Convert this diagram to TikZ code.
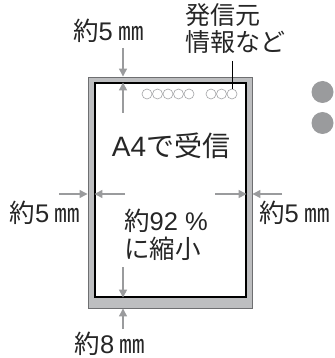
\documentclass[tikz,border=0pt]{standalone}
\usepackage{fontspec}
\setmainfont{Noto Sans CJK JP}
\newfontfamily\lat{Liberation Sans}
\usetikzlibrary{arrows.meta,positioning,calc}
\definecolor{rimgray}{HTML}{BDBEC0}
\definecolor{edgegray}{HTML}{6E6F71}
\definecolor{arrowgray}{HTML}{9A9B9D}
\definecolor{dotgray}{HTML}{A3A4A6}
\tikzset{
  sheet/.style={draw=edgegray,fill=rimgray,line width=0.9pt,minimum width=164pt,minimum height=231pt,inner sep=0pt},
  page/.style={draw=black,fill=white,line width=1.1pt,minimum width=151pt,minimum height=214pt,inner sep=0pt},
  dimarrow/.style={draw=arrowgray,line width=1.3pt,-{Triangle[length=8pt,width=8pt]}},
  label/.style={font=\fontsize{25.5}{27}\selectfont,inner sep=0pt,text=black!85},
  holedot/.style={draw=dotgray,line width=0.6pt}
}
\begin{document}
\begin{tikzpicture}[x=1pt,y=-1pt]
  \useasboundingbox (0,0) rectangle (334,358);
  % paper and printed area
  \node[sheet] (outer) at (170,192.5) {};
  \node[page] (inner) at (170.5,190) {};

  % sender info dots
  \foreach \cx in {147,157.5,168,178.5,189,211,221.5,232}
    \draw[holedot] (\cx,94) circle (5);
  \node[label,align=left,anchor=north west,font=\fontsize{25}{27}\selectfont] (sender) at (185,3) {発信元\\情報など};
  \coordinate (dotlast) at (232,89);
  \draw[black,line width=0.9pt] (dotlast |- 0,61) -- (dotlast);

  % main texts
  \node[label,font=\fontsize{28}{30}\selectfont] (recv) at (171,146) {{\lat A4}で受信};
  \node[label,align=left,anchor=north west,font=\fontsize{25.5}{28}\selectfont] (scale) at (124,209) {約{\lat 92 \%}\\に縮小};

  % top margin
  \node[label] (toplab) at (108.5,31) {約{\lat 5} ㎜};
  \coordinate (topA) at (123,48);
  \draw[dimarrow] (topA) -- (topA |- outer.north);
  \coordinate (topB) at (123,113);
  \draw[dimarrow] (topB) -- (topB |- inner.north);

  % left margin
  \node[label] (leftlab) at (45,213) {約{\lat 5} ㎜};
  \coordinate (leftA) at (59,194);
  \draw[dimarrow] (leftA) -- (leftA -| outer.west);
  \coordinate (leftB) at (125,194);
  \draw[dimarrow] (leftB) -- (leftB -| inner.west);

  % right margin
  \node[label] (rightlab) at (294.5,213) {約{\lat 5} ㎜};
  \coordinate (rightA) at (215,194);
  \draw[dimarrow] (rightA) -- (rightA -| inner.east);
  \coordinate (rightB) at (282,194);
  \draw[dimarrow] (rightB) -- (rightB -| outer.east);

  % bottom margin
  \node[label] (botlab) at (110,344) {約{\lat 8} ㎜};
  \coordinate (botA) at (123,267);
  \draw[dimarrow] (botA) -- (botA |- inner.south);
  \coordinate (botB) at (123,329);
  \draw[dimarrow] (botB) -- (botB |- outer.south);

  % side bullets
  \fill[arrowgray] (322.5,92) circle (11);
  \fill[arrowgray] (322.5,123) circle (11);
\end{tikzpicture}
\end{document}
